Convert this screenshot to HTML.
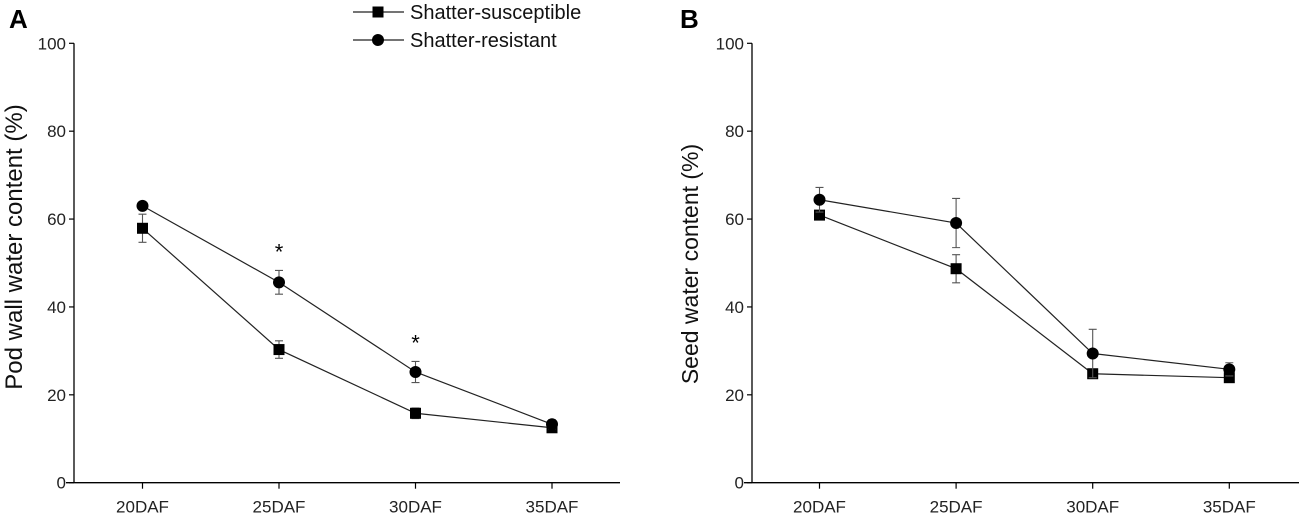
<!DOCTYPE html>
<html><head><meta charset="utf-8"><style>
body{margin:0;background:#fff}
svg{display:block;font-family:"Liberation Sans",Arial,sans-serif}
</style></head><body>
<svg id="chart" width="1299" height="514" viewBox="0 0 1299 514"></svg>
<script>
const categories=["20DAF","25DAF","30DAF","35DAF"];
const yTicks=[0,20,40,60,80,100];
const aSus=[57.9,30.3,15.8,12.5];
const aSusErr=[3.2,2.0,1.2,1.0];
const aRes=[63.0,45.6,25.2,13.3];
const aResErr=[0.8,2.7,2.4,1.0];
const aStars=[false,true,true,false];
const bSus=[60.9,48.7,24.8,23.9];
const bSusErr=[0.6,3.2,1.0,0.5];
const bRes=[64.4,59.1,29.4,25.8];
const bResErr=[2.8,5.6,5.5,1.5];
const NS="http://www.w3.org/2000/svg";
const svg=document.getElementById('chart');
function mk(tag,attrs,parent,text){const e=document.createElementNS(NS,tag);for(const k in attrs)e.setAttribute(k,attrs[k]);if(text!==undefined)e.textContent=text;(parent||svg).appendChild(e);return e;}
function panel(cfg){
  const g=mk('g',{});
  
  
  const y0=482.7,y100=43.3;
  const Y=v=>y0-(v/100)*(y0-y100);
  const X=i=>cfg.x0+i*cfg.dx;
  const ax=mk('line',{x1:cfg.axX,y1:y100,x2:cfg.axX,y2:y0,stroke:'#000','stroke-width':1.3},g);
  
  const bx=mk('line',{x1:cfg.axX-8,y1:y0,x2:cfg.xEnd,y2:y0,stroke:'#000','stroke-width':1.3},g);
  
  yTicks.forEach(t=>{
    mk('line',{x1:cfg.axX-5,y1:Y(t),x2:cfg.axX,y2:Y(t),stroke:'#000','stroke-width':1.2},g);
    const tl=mk('text',{x:cfg.axX-8,y:Y(t)+6,'text-anchor':'end','font-size':17,fill:'#222'},g,String(t));
    
  });
  categories.forEach((c,i)=>{
    mk('line',{x1:X(i),y1:y0,x2:X(i),y2:y0+6,stroke:'#000','stroke-width':1.2},g);
    const tl=mk('text',{x:X(i),y:y0+30,'text-anchor':'middle','font-size':17,fill:'#222'},g,c);
    
  });
  const yt=mk('text',{x:0,y:0,transform:`translate(${cfg.titleX},${cfg.titleY}) rotate(-90)`,'text-anchor':'middle','font-size':cfg.titleSize,fill:'#111'},g,cfg.title);
  
  const pl=mk('text',{x:cfg.labX,y:28,'font-size':26,'font-weight':'bold',fill:'#000'},g,cfg.label);
  
  [[cfg.sus,cfg.susErr,'square','susceptible'],[cfg.res,cfg.resErr,'circle','resistant']].forEach(([vals,errs,shape,nm])=>{
    const pts=vals.map((v,i)=>X(i)+','+Y(v)).join(' ');
    const ln=mk('polyline',{points:pts,fill:'none',stroke:'#222','stroke-width':1.2},g);
    
    vals.forEach((v,i)=>{
      const x=X(i),yt=Y(v+errs[i]),yb=Y(v-errs[i]);
      const eb=mk('path',{d:`M${x},${yt}V${yb}M${x-4},${yt}H${x+4}M${x-4},${yb}H${x+4}`,stroke:'#555','stroke-width':1.1,fill:'none'},g);
      
      let m;
      if(shape==='square') m=mk('rect',{x:x-5.5,y:Y(v)-5.5,width:11,height:11,fill:'#000'},g);
      else m=mk('circle',{cx:x,cy:Y(v),r:6,fill:'#000'},g);
      
    });
  });
  if(cfg.stars) cfg.stars.forEach((s,i)=>{if(s){
    const st=mk('text',{x:X(i),y:Y(cfg.res[i]+cfg.resErr[i])-11,'text-anchor':'middle','font-size':22,fill:'#000'},g,'*');
    
  }});
}
panel({name:'panel-a',x0:142.5,dx:136.5,axX:74,xEnd:620,title:'Pod wall water content (%)',titleSize:24,titleX:22,titleY:247,label:'A',labX:9,sus:aSus,susErr:aSusErr,res:aRes,resErr:aResErr,stars:aStars});
panel({name:'panel-b',x0:819.5,dx:136.6,axX:752,xEnd:1299,title:'Seed water content (%)',titleSize:23,titleX:698,titleY:264,label:'B',labX:680,sus:bSus,susErr:bSusErr,res:bRes,resErr:bResErr});
// legend
const lg=mk('g',{});


[['Shatter-susceptible',12,'square'],['Shatter-resistant',40,'circle']].forEach(([t,y,s])=>{
  const e=mk('g',{},lg);
  
  
  mk('line',{x1:353,y1:y,x2:404,y2:y,stroke:'#222','stroke-width':1.2},e);
  if(s==='square') mk('rect',{x:372.5,y:y-5.5,width:11,height:11,fill:'#000'},e);
  else mk('circle',{cx:378,cy:y,r:6,fill:'#000'},e);
  mk('text',{x:410,y:y+7,'font-size':20,fill:'#111'},e,t);
});
</script>
</body></html>
